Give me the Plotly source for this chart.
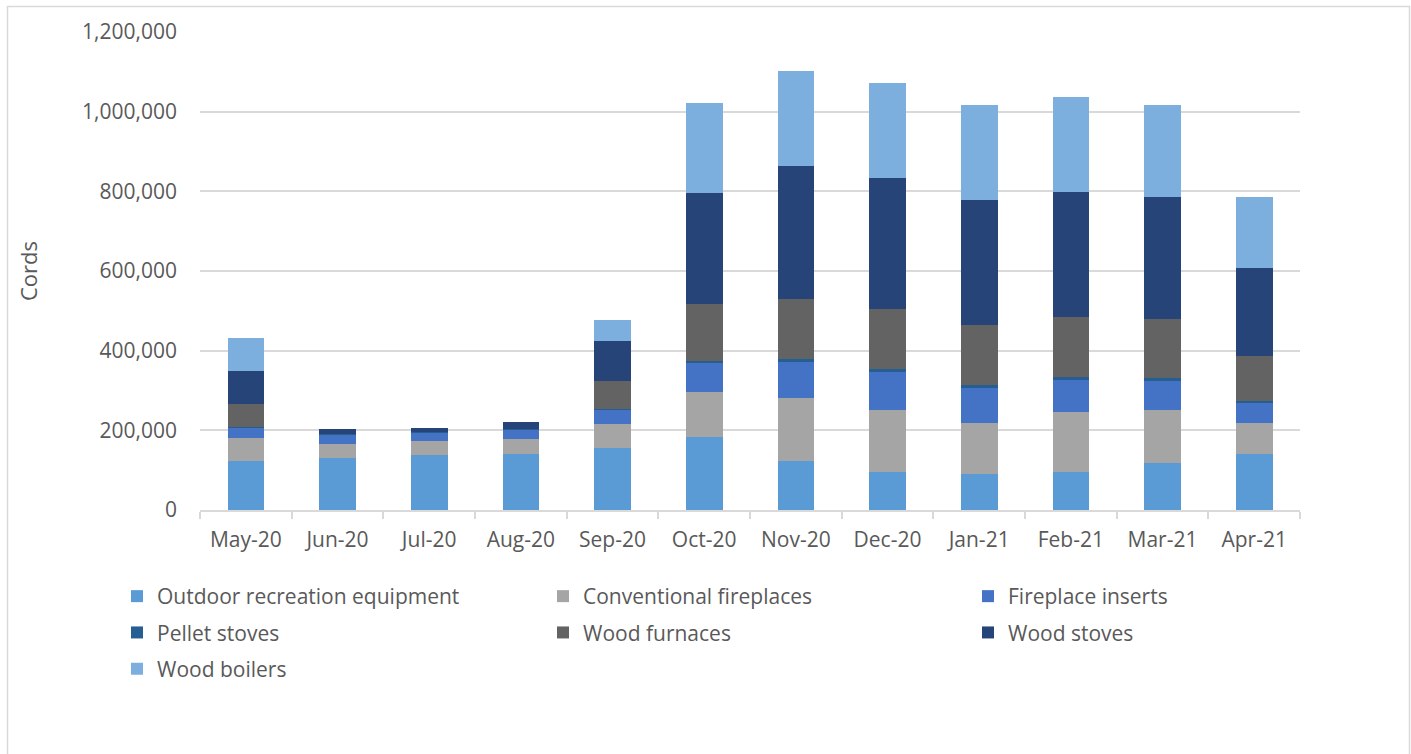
import plotly.graph_objects as go

# Monthly firewood use by appliance type (cords)
months = ["May-20", "Jun-20", "Jul-20", "Aug-20", "Sep-20", "Oct-20",
          "Nov-20", "Dec-20", "Jan-21", "Feb-21", "Mar-21", "Apr-21"]

outdoor_recreation = [123000, 131000, 138000, 140000, 155000, 184000,
                      124000, 96000, 91000, 96000, 117000, 141000]
conventional_fireplaces = [57000, 35000, 35000, 38000, 61000, 113000,
                           158000, 156000, 127000, 150000, 134000, 77000]
fireplace_inserts = [27000, 23000, 22000, 25000, 37000, 73000,
                     92000, 96000, 89000, 82000, 75000, 53000]
pellet_stoves = [2000, 2000, 1000, 1000, 1000, 4000,
                 4000, 5000, 6000, 5000, 5000, 3000]
wood_furnaces = [57000, 0, 0, 0, 70000, 143000,
                 152000, 151000, 151000, 151000, 149000, 113000]
wood_stoves = [84000, 12000, 9000, 16000, 100000, 279000,
               333000, 330000, 315000, 314000, 307000, 220000]
wood_boilers = [83000, 0, 0, 0, 53000, 226000,
                239000, 239000, 239000, 239000, 229000, 179000]

y_ticks = [0, 200000, 400000, 600000, 800000, 1000000, 1200000]

series = [
    ("Outdoor recreation equipment", outdoor_recreation, "#5B9BD5", "legend"),
    ("Conventional fireplaces", conventional_fireplaces, "#A5A5A5", "legend2"),
    ("Fireplace inserts", fireplace_inserts, "#4472C4", "legend3"),
    ("Pellet stoves", pellet_stoves, "#255E91", "legend"),
    ("Wood furnaces", wood_furnaces, "#636363", "legend2"),
    ("Wood stoves", wood_stoves, "#264478", "legend3"),
    ("Wood boilers", wood_boilers, "#7CAFDD", "legend"),
]

W, H = 1411, 754
L, R, T, B = 200, 111, 32, 244
pw, ph = W - L - R, H - T - B


def px_x(px):
    return (px - L) / pw


def px_y(py):
    return (H - B - py) / ph


fig = go.Figure()
for name, vals, color, leg in series:
    fig.add_trace(go.Bar(
        x=months, y=vals, name=name,
        marker=dict(color=color, line=dict(width=0)),
        legend=leg, legendgroup=name,
    ))

text_color = "#595959"
grid_color = "#D9D9D9"
font_family = "Open Sans, sans-serif"
fs = 21

legend_common = dict(
    orientation="v", xanchor="left", yanchor="top",
    font=dict(family=font_family, size=fs, color=text_color),
    traceorder="grouped", tracegroupgap=6, itemwidth=30,
    bgcolor="rgba(0,0,0,0)",
)

fig.update_layout(
    width=W, height=H,
    margin=dict(l=L, r=R, t=T, b=B, autoexpand=False),
    barmode="stack", bargap=0.6,
    paper_bgcolor="white", plot_bgcolor="white",
    font=dict(family=font_family, size=fs, color=text_color),
    xaxis=dict(
        type="category", showgrid=False,
        showline=True, linecolor=grid_color, linewidth=1.5,
        ticks="outside", tickson="boundaries", ticklen=7,
        tickcolor=grid_color, tickwidth=1.5,
        tickfont=dict(size=fs, color=text_color),
        ticklabelstandoff=10,
    ),
    yaxis=dict(
        range=[0, 1200000], tickvals=y_ticks,
        tickformat=",d", showgrid=True, gridcolor=grid_color, gridwidth=1.5,
        zeroline=False, showline=False, ticks="",
        tickfont=dict(size=fs, color=text_color),
        ticklabelstandoff=22,
        title=dict(text="Cords", font=dict(size=22, color=text_color), standoff=38),
    ),
    legend=dict(x=px_x(117), y=px_y(576), **legend_common),
    legend2=dict(x=px_x(543), y=px_y(576), **legend_common),
    legend3=dict(x=px_x(968), y=px_y(576), **legend_common),
    shapes=[dict(
        type="rect", xref="paper", yref="paper",
        x0=px_x(7.5), x1=px_x(1409.5), y0=px_y(770), y1=px_y(6.5),
        line=dict(color=grid_color, width=1.5), fillcolor="rgba(0,0,0,0)",
        layer="below",
    )],
)

fig.write_html("out.html")
